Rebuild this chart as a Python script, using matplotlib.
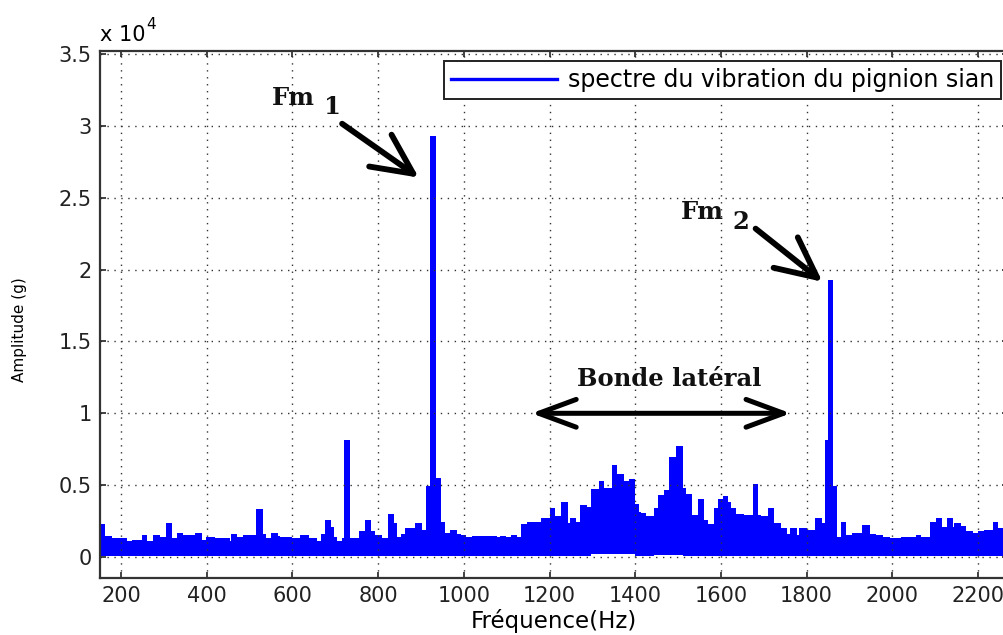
import matplotlib
matplotlib.use("Agg")
import matplotlib.pyplot as plt
from matplotlib.lines import Line2D
import numpy as np

# upper envelope of the vibration spectrum (step levels, g), starting at each frequency (Hz)
freq = [150, 163, 178, 213, 225, 248, 260, 275, 291, 305, 320, 331, 345, 372, 388, 399,
        419, 454, 457, 471, 485, 496, 514, 531, 539, 550, 566,
        572, 599, 618, 638, 657, 667, 677, 690, 696, 705, 715, 721, 735, 756, 770, 783,
        793, 808, 822, 837, 845, 853, 863, 886, 902, 912, 922, 935, 946, 956, 967, 983,
        993, 1005, 1020, 1078, 1085, 1098, 1109, 1125, 1134, 1148, 1179, 1201, 1214, 1228,
        1243, 1249, 1263, 1272, 1288, 1297, 1315, 1328, 1346, 1357, 1373, 1385, 1400, 1408,
        1414, 1426, 1445, 1454, 1468, 1478, 1495, 1511, 1519, 1532, 1546, 1560, 1569, 1583,
        1594, 1604, 1617, 1623, 1635, 1654, 1674, 1687, 1693, 1709, 1724, 1740, 1755, 1761,
        1778, 1782, 1802, 1819,
        1835, 1843, 1849, 1862, 1872, 1880, 1893, 1905, 1930, 1947, 1963, 1978, 1994, 2021,
        2056, 2068, 2089, 2102, 2116, 2128, 2141, 2145, 2161, 2172, 2188, 2199, 2215, 2234,
        2246, 2270]
amp_hi = [2270, 1460, 1300, 1130, 1200, 1500, 1100, 1500, 1400, 2340, 1300, 1690, 1530, 1690, 1200, 1400,
          1300, 1100, 1600, 1400, 1500, 1550, 3330, 1600, 1300, 1700, 1450,
          1370, 1300, 1500, 1350, 1100, 1600, 2570, 2100, 1400, 1130, 1300, 8170, 1300, 1800, 2570, 1800,
          1550, 1300, 2990, 2340, 1400, 1600, 2000, 2340, 1850, 4930, 29300, 5530, 2450, 1700, 1900, 1600,
          1530, 1400, 1450, 1400, 1450, 1380, 1500, 1400, 2290, 2450, 2690, 3430, 2850, 3840,
          2340, 2730, 2450, 3610, 3450, 4700, 5300, 4770, 6430, 5760, 5300, 5460, 3700, 3100,
          3030, 2850, 3430, 4300, 4650, 6970, 7710, 4770, 4400, 2900, 4070, 2600, 2300, 3400,
          4070, 4240, 3800, 3430, 2960, 2900, 5050, 2900, 2850, 3400, 2340, 2000, 1600, 2000,
          1550, 2000, 1850, 2700,
          2340, 8170, 19300, 4930, 1400, 2450, 1530, 1700, 2200, 1600, 1530, 1400, 1300, 1400,
          1550, 1400, 2450, 2730, 2100, 2730, 2100, 2340, 2150, 1800, 1700, 1800, 1900, 2450,
          2000, 2000]

# lower edge of the noise band
freq_lo = [150, 1290, 1300, 1330, 1380, 1400, 1480, 1520, 2270]
amp_lo = [40, 40, 250, 200, 250, 80, 150, 60, 40]

xticks = [200, 400, 600, 800, 1000, 1200, 1400, 1600, 1800, 2000, 2200]
yticks = [0, 5000, 10000, 15000, 20000, 25000, 30000, 35000]
ytick_labels = ["0", "0.5", "1", "1.5", "2", "2.5", "3", "3.5"]

W, H = 1004, 635
fig = plt.figure(figsize=(W / 100, H / 100), dpi=100)
ax = fig.add_axes([100 / W, 57 / H, 908 / W, 527 / H])

lo = np.interp(freq, freq_lo, amp_lo)
ax.fill_between(freq, lo, amp_hi, step="post", color="#0000ff", lw=0)

ax.set_xlim(151, 2270)
ax.set_ylim(-1460, 35210)
ax.set_xticks(xticks)
ax.set_yticks(yticks)
ax.set_yticklabels(ytick_labels)
ax.tick_params(direction="in", top=True, right=True, length=4.5, width=1.2,
               labelsize=15, pad=6, colors="#222222")
ax.grid(True, color="#333333", linestyle=(0, (1, 4)), linewidth=1.0)
for s in ax.spines.values():
    s.set_linewidth(1.6)
    s.set_color("#333333")

ax.set_xlabel("Fréquence(Hz)", fontsize=16.5, labelpad=2)
fig.text(20 / W, 1 - 330 / H, "Amplitude (g)", rotation=90, fontsize=11,
         ha="center", va="center")
fig.text(100 / W, 1 - 41 / H, "x 10", fontsize=15, ha="left", va="baseline")
fig.text(146 / W, 1 - 29 / H, "4", fontsize=11, ha="left", va="baseline")

leg = ax.legend(handles=[Line2D([], [], color="#0000ff", lw=2.4)],
                labels=["spectre du vibration du pignion sian"],
                loc="upper right", bbox_to_anchor=(1001 / W, 1 - 61 / H),
                bbox_transform=fig.transFigure, fontsize=17, handlelength=4.5,
                fancybox=False, framealpha=1, borderpad=0.3, borderaxespad=0,
                handletextpad=0.45)
leg.get_frame().set_edgecolor("#222222")
leg.get_frame().set_linewidth(1.4)

serif = dict(family="DejaVu Serif", weight="bold", fontsize=17.5, color="#111111")
arrow = dict(arrowstyle="->, head_length=2.9, head_width=1.4", lw=4.2, color="black",
             shrinkA=0, shrinkB=0, mutation_scale=10)
arrow2 = dict(arrowstyle="<->, head_length=2.7, head_width=1.0", lw=3.6, color="black",
              shrinkA=0, shrinkB=0, mutation_scale=10)

# gear mesh frequency markers
ax.text(551, 31450, "Fm", ha="left", va="baseline", **serif)
ax.text(674, 30800, "1", ha="left", va="baseline", **serif)
ax.annotate("", xy=(895, 26400), xytext=(716, 30150), arrowprops=arrow)

ax.text(1507, 23540, "Fm", ha="left", va="baseline", **serif)
ax.text(1628, 22850, "2", ha="left", va="baseline", **serif)
ax.annotate("", xy=(1837, 19150), xytext=(1681, 22850), arrowprops=arrow)

# sideband span
ax.text(1479, 11900, "Bonde latéral", ha="center", va="baseline", **serif)
ax.annotate("", xy=(1158, 10000), xytext=(1763, 10000), arrowprops=arrow2)

fig.savefig("out.png", dpi=100)
